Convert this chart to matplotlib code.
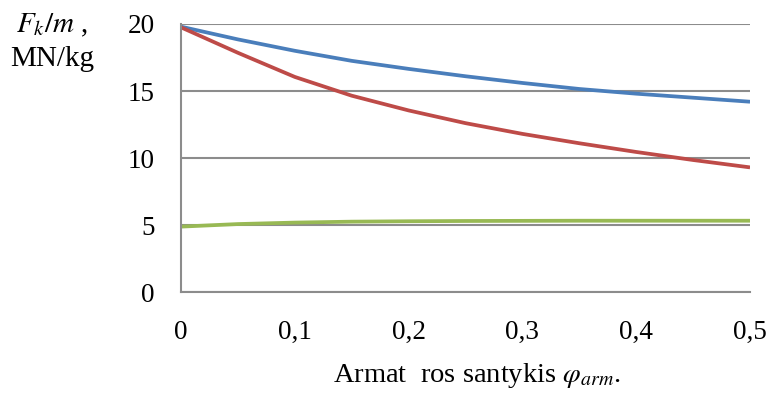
import matplotlib.pyplot as plt

# values
phi = [0, 0.05, 0.1, 0.15, 0.2, 0.25, 0.3, 0.35, 0.4, 0.45, 0.5]
blue = [19.8, 18.85, 18.0, 17.25, 16.65, 16.1, 15.6, 15.15, 14.8, 14.5, 14.2]
red = [19.75, 17.85, 16.05, 14.65, 13.55, 12.6, 11.8, 11.1, 10.45, 9.85, 9.3]
green = [4.88, 5.07, 5.18, 5.25, 5.28, 5.3, 5.31, 5.32, 5.32, 5.32, 5.32]
xticks = [0, 0.1, 0.2, 0.3, 0.4, 0.5]
xlabels = ['0', '0,1', '0,2', '0,3', '0,4', '0,5']
yticks = [0, 5, 10, 15, 20]

plt.rcParams['font.family'] = 'Liberation Serif'
plt.rcParams['mathtext.fontset'] = 'stix'

fig = plt.figure(figsize=(7.71, 3.96), dpi=100)
ax = fig.add_axes([0.2348, 0.2626, 0.738, 0.6768])

ax.plot(phi, blue, color='#4A7EBB', lw=2.7, solid_capstyle='butt')
ax.plot(phi, red, color='#BE4B48', lw=2.7, solid_capstyle='butt')
ax.plot(phi, green, color='#98B954', lw=2.7, solid_capstyle='butt')

ax.set_xlim(0, 0.5)
ax.set_ylim(0, 20)
ax.set_xticks(xticks)
ax.set_xticklabels(xlabels)
ax.set_yticks(yticks)
ax.tick_params(length=0, labelsize=19.5)
ax.tick_params(axis='x', pad=20)
ax.tick_params(axis='y', pad=19)
ax.grid(axis='y', color='#8C8C8C', lw=1.5)
ax.set_axisbelow(True)
for s in ['top', 'right']:
    ax.spines[s].set_visible(False)
for s in ['left', 'bottom']:
    ax.spines[s].set_color('#8C8C8C')
    ax.spines[s].set_linewidth(1.5)

fig.text(52, 396 - 32, r'$F_k/m$ ,', fontsize=21, ha='center', va='baseline',
         transform=None)
fig.text(0.068, 0.85, 'MN/kg', fontsize=21, ha='center', va='center')
fig.text(333 / 771, 0.052, r'Armat  ros santykis $\varphi_{arm}$.', fontsize=20.5,
         ha='left', va='center')

fig.savefig('out.png', dpi=100)
